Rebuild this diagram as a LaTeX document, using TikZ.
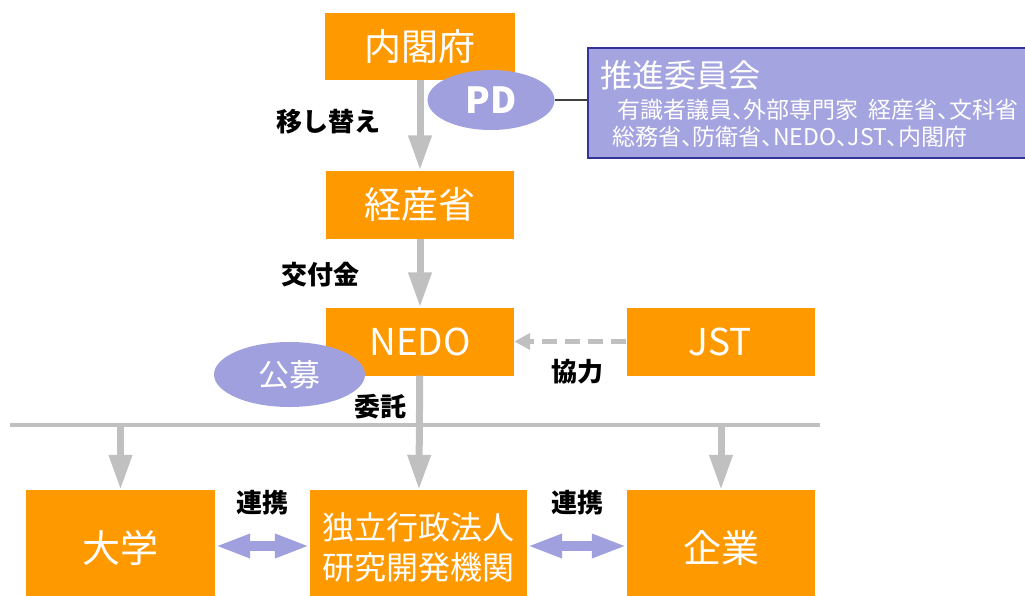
\documentclass[tikz,border=0pt]{standalone}
\usepackage{fontspec}
\setmainfont{Noto Sans CJK JP}
\newfontfamily\jpprop{Noto Sans CJK JP}[RawFeature=+palt]
\usetikzlibrary{arrows.meta,shapes.geometric}

\definecolor{orgbox}{RGB}{255,153,0}
\definecolor{lavbox}{RGB}{160,160,222}
\definecolor{panelfill}{RGB}{164,164,224}
\definecolor{paneldraw}{RGB}{51,51,153}
\definecolor{grayline}{RGB}{192,192,192}

\tikzset{
  box/.style={fill=orgbox,text=white,inner sep=0pt,minimum width=188pt,minimum height=68pt,
    font=\fontsize{37}{40}\selectfont},
  oval/.style={ellipse,fill=lavbox,text=white,inner sep=0pt},
  tag/.style={font=\fontsize{26}{28}\selectfont\bfseries},
  flow/.style={draw=grayline,line width=7pt,-{Triangle[width=22pt,length=35pt]}},
  link/.style={draw=lavbox,line width=10pt,{Triangle[width=22pt,length=35pt]}-{Triangle[width=22pt,length=35pt]}}
}

\begin{document}
\begin{tikzpicture}[x=1pt,y=-1pt]
\useasboundingbox (0,0) rectangle (1025,595);

% main chain
\node[box,minimum width=190pt,minimum height=67pt] (cao) at (420,46.5) {内閣府};
\node[box] (meti) at (420,204.5) {経産省};
\node[box] (nedo) at (420,341.5) {NEDO};
\node[box] (jst) at (720.5,341.5) {JST};

% bottom row (runs off the page at the bottom)
\node[box,minimum width=189pt,minimum height=115pt,font=\fontsize{38}{40}\selectfont] (univ) at (120.5,547.5) {大学};
\node[box,minimum width=217pt,minimum height=115pt,align=center,
  font=\fontsize{32}{40}\selectfont] (inst) at (418.5,547.5) {独立行政法人\\研究開発機関};
\node[box,minimum width=188pt,minimum height=115pt,font=\fontsize{38}{40}\selectfont] (corp) at (721,547.5) {企業};

% committee
\node[draw=paneldraw,line width=1.6pt,fill=panelfill,minimum width=450pt,minimum height=110pt,
  anchor=north west] (cmte) at (587,47) {};
\node[anchor=west,text=white,font=\fontsize{32}{34}\selectfont,inner sep=0pt] (cmte-t) at (600,75) {推進委員会};
\node[anchor=west,text=white,font=\jpprop\fontsize{23}{25}\selectfont,inner sep=0pt] (cmte-a) at (617,110) {有識者議員、外部専門家\ \ 経産省、文科省};
\node[anchor=west,text=white,font=\jpprop\fontsize{23}{25}\selectfont,inner sep=0pt] (cmte-b) at (612,137) {総務省、防衛省、NEDO、JST、内閣府};

% rail
\coordinate (rail-l) at (10,425);
\coordinate (rail-r) at (820,425);
\draw[grayline,line width=4.5pt] (rail-l) -- (rail-r);

% arrows
\draw[flow] (cao) -- (meti);
\draw[flow] (meti) -- (nedo);
\draw[flow] (nedo) -- (inst);
\draw[flow] (univ.north|-rail-l) -- (univ.north);
\draw[flow] (corp.north|-rail-l) -- (corp.north);
\draw[grayline,line width=5pt,dash pattern=on 15pt off 8pt,
  -{Triangle[width=16pt,length=16pt]}] (jst) -- (nedo);
\draw[link] (univ.east|-0,546) -- (inst.west|-0,546);
\draw[link] (inst.east|-0,546) -- (corp.west|-0,546);

% ovals
\node[oval,minimum width=127pt,minimum height=60pt,font=\fontsize{36}{38}\selectfont\bfseries] (pd) at (491,100) {PD};
\draw[black!75,line width=1.3pt] (pd.east) -- (cmte.west|-pd.east);
\node[oval,minimum width=151pt,minimum height=65pt,font=\fontsize{31}{34}\selectfont] (koubo) at (289.5,374.5) {公募};

% labels
\node[tag] (l-move) at (328,122) {移し替え};
\node[tag] (l-grant) at (320,275) {交付金};
\node[tag] (l-coop) at (577,372) {協力};
\node[tag] (l-cons) at (380,407) {委託};
\node[tag] (l-link1) at (262,503) {連携};
\node[tag] (l-link2) at (577,503) {連携};
\end{tikzpicture}
\end{document}
